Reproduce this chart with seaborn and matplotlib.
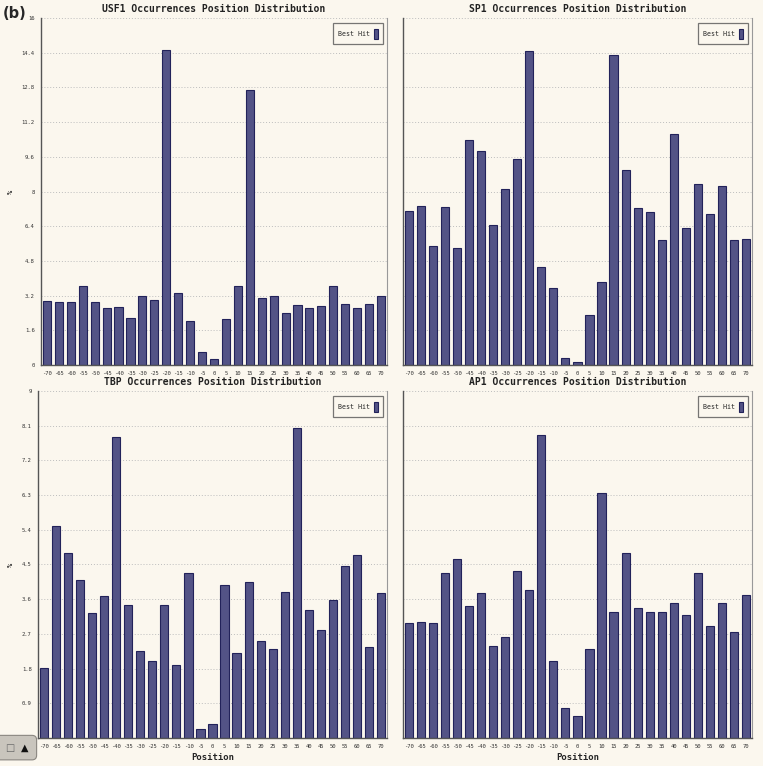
import numpy as np
import pandas as pd
import seaborn as sns
import matplotlib.pyplot as plt
from matplotlib.patches import FancyBboxPatch

# positions (bp)
positions = [str(p) for p in range(-70, 75, 5)]

# % of best hits per position
usf1 = [2.95, 2.89, 2.92, 3.65, 2.92, 2.62, 2.69, 2.15, 3.20, 2.98,
        14.54, 3.34, 2.03, 0.58, 0.28, 2.12, 3.62, 12.69, 3.11, 3.17,
        2.38, 2.77, 2.65, 2.72, 3.62, 2.80, 2.65, 2.80, 3.20]
sp1 = [7.11, 7.35, 5.51, 7.28, 5.38, 10.38, 9.88, 6.46, 8.12, 9.49,
       14.49, 4.51, 3.57, 0.31, 0.12, 2.29, 3.85, 14.29, 9.00, 7.25,
       7.05, 5.78, 10.66, 6.31, 8.34, 6.95, 8.26, 5.77, 5.80]
tbp = [1.81, 5.50, 4.81, 4.10, 3.23, 3.69, 7.80, 3.44, 2.25, 2.00,
       3.46, 1.88, 4.27, 0.24, 0.35, 3.97, 2.20, 4.04, 2.52, 2.31,
       3.78, 8.05, 3.32, 2.81, 3.58, 4.46, 4.74, 2.37, 3.75]
ap1 = [2.97, 3.01, 2.97, 4.28, 4.64, 3.43, 3.77, 2.39, 2.61, 4.34,
       3.83, 7.85, 1.99, 0.78, 0.56, 2.32, 6.35, 3.26, 4.79, 3.37,
       3.26, 3.26, 3.49, 3.20, 4.28, 2.90, 3.49, 2.74, 3.70]

factors = ["USF1", "SP1", "TBP", "AP1"]
series = [usf1, sp1, tbp, ap1]
top_ticks = [round(1.6 * i, 1) for i in range(11)]
bot_ticks = [round(0.9 * i, 1) for i in range(11)]

BG = "#FBF7EE"
BAR = "#4A4A8E"
EDGE = "#22225A"

sns.set_style("white")
plt.rcParams["font.family"] = ["DejaVu Sans Mono", "DejaVu Sans"]

fig = plt.figure(figsize=(7.63, 7.66), dpi=100, facecolor=BG)

# panel boxes [left, bottom, width, height] in figure fractions
boxes = [
    [0.0537, 0.5235, 0.4535, 0.453],
    [0.528, 0.5235, 0.4576, 0.453],
    [0.0498, 0.0366, 0.4574, 0.453],
    [0.528, 0.0366, 0.4576, 0.453],
]

for i, (name, vals) in enumerate(zip(factors, series)):
    ax = fig.add_axes(boxes[i])
    ax.set_facecolor(BG)
    df = pd.DataFrame({"Position": positions, "pct": vals, "hue": "Best Hit"})
    sns.barplot(data=df, x="Position", y="pct", hue="hue", order=positions,
                palette=[BAR], width=0.68, edgecolor=EDGE, linewidth=0.8,
                ax=ax)

    ticks = top_ticks if i < 2 else bot_ticks
    ax.set_ylim(0, ticks[-1])
    ax.set_yticks(ticks)
    if i % 2 == 0:
        ax.set_yticklabels([("0" if t == 0 else f"{t:g}") for t in ticks])
        ax.set_ylabel("%", fontsize=5, fontweight="bold", labelpad=6)
    else:
        ax.set_yticklabels([])
        ax.set_ylabel("")
    ax.set_xlim(-0.5, len(positions) - 0.5)
    ax.set_xticks(range(len(positions)))
    ax.set_xticklabels(positions)
    if i >= 2:
        ax.set_xlabel("Position", fontsize=6.5, fontweight="bold", labelpad=3)
    else:
        ax.set_xlabel("")

    ax.tick_params(axis="both", labelsize=4, direction="inout", length=5,
                   width=0.8, color="#555555", labelcolor="#333333", pad=2)
    ax.grid(axis="y", linestyle=(0, (1, 2)), color="#BDBDBD", linewidth=0.7)
    ax.set_axisbelow(True)
    for side in ["left", "bottom"]:
        ax.spines[side].set_color("#555555")
        ax.spines[side].set_linewidth(1.0)
    ax.spines["right"].set_color("#999999")
    ax.spines["right"].set_linewidth(0.8)
    ax.spines["top"].set_visible(False)

    ax.set_title(f"{name} Occurrences Position Distribution", fontsize=7,
                 fontweight="bold", color="#222222", pad=4)

    leg = ax.legend(loc="upper right", fontsize=4.8, markerfirst=False,
                    handlelength=0.55, handleheight=2.0, handletextpad=0.6,
                    borderpad=0.8, borderaxespad=0.3, frameon=True,
                    fancybox=False, bbox_to_anchor=(0.995, 0.99))
    leg.get_frame().set_edgecolor("#555555")
    leg.get_frame().set_facecolor(BG)
    leg.get_frame().set_linewidth(0.9)

fig.text(0.004, 0.982, "(b)", fontsize=10.5, fontweight="bold",
         family="DejaVu Sans", va="center", ha="left")

# little widget in the lower-left corner of the screenshot
widget = FancyBboxPatch((-0.01, 0.008), 0.058, 0.032,
                        boxstyle="round,pad=0,rounding_size=0.006",
                        transform=fig.transFigure, facecolor="#C9C5BD",
                        edgecolor="#8A8680", linewidth=0.8)
fig.patches.append(widget)
fig.text(0.013, 0.024, "□", fontsize=7, color="#666666", family="DejaVu Sans",
         ha="center", va="center")
fig.text(0.033, 0.024, "▲", fontsize=7, color="#111111", family="DejaVu Sans",
         ha="center", va="center")

fig.savefig("out.png", dpi=100, facecolor=BG)
